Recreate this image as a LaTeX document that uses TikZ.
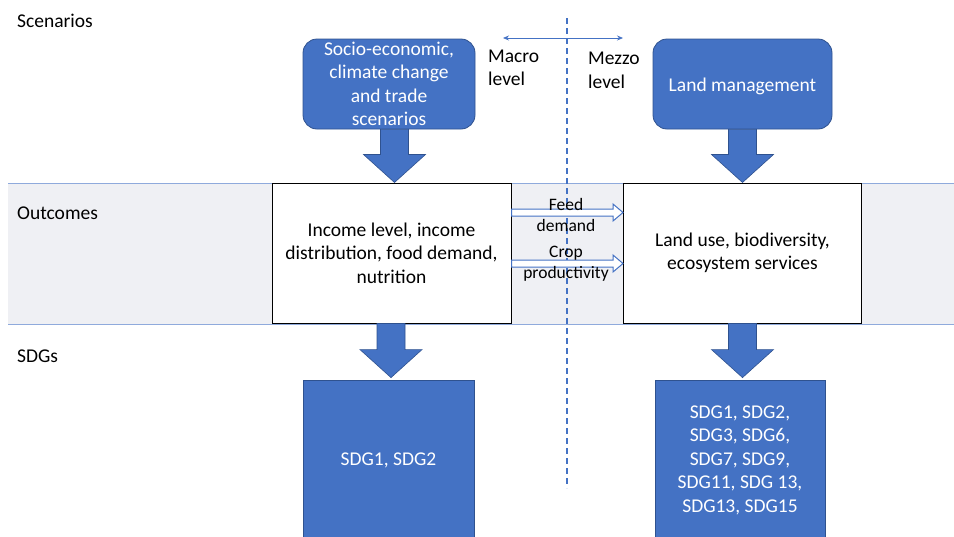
\documentclass[tikz,border=0pt]{standalone}
\usepackage{fontspec}
\setmainfont{Carlito}
\usetikzlibrary{calc,arrows.meta}
\definecolor{blu}{HTML}{4472C4}
\definecolor{bluedge}{HTML}{2F528F}
\definecolor{band}{HTML}{EFF0F4}
\definecolor{bandline}{HTML}{8FAADC}
\newcommand\blockarr[2]{% #1 tip coordinate, #2 node giving the top y
  \path[blockarrow] let \p1=(#1), \p2=(#2) in
  (\x1-14pt,\y2) -- (\x1+14pt,\y2) -- (\x1+14pt,\y1+28pt) -- (\x1+31pt,\y1+28pt)
  -- (\x1,\y1) -- (\x1-31pt,\y1+28pt) -- (\x1-14pt,\y1+28pt) -- cycle;}
\newcommand\hollowarr[2]{% #1 start coordinate, #2 tip coordinate
  \path[hollowarrow] let \p1=(#1), \p2=(#2) in
  (\x1,\y2+3.5pt) -- (\x2-10pt,\y2+3.5pt) -- (\x2-10pt,\y2+8.5pt) -- (\x2,\y2)
  -- (\x2-10pt,\y2-8.5pt) -- (\x2-10pt,\y2-3.5pt) -- (\x1,\y2-3.5pt) -- cycle;}
\begin{document}
\begin{tikzpicture}[x=1pt,y=-1pt,
  bigtxt/.style={font=\fontsize{19.5}{23.5}\selectfont},
  smalltxt/.style={font=\fontsize{17.5}{21}\selectfont},
  bluebox/.style={fill=blu, draw=bluedge, line width=0.8pt, text=white, align=center, bigtxt, inner sep=0pt},
  roundbox/.style={bluebox, rounded corners=14pt},
  whitebox/.style={fill=white, draw=black, line width=1pt, align=center, bigtxt, inner sep=0pt},
  blockarrow/.style={fill=blu, draw=bluedge, line width=0.6pt},
  hollowarrow/.style={fill=white, draw=blu, line width=1pt},
  label/.style={bigtxt, anchor=west, inner sep=0pt, align=left},
  levelarrow/.style={draw=blu, line width=0.7pt, {Stealth[length=6pt,width=5pt]}-{Stealth[length=6pt,width=5pt]}},
  divider/.style={draw=blu, line width=1.3pt, dash pattern=on 6pt off 4pt},
]
\useasboundingbox (0,0) rectangle (954,536);
% band
\fill[band] (8,183) rectangle (954,324);
\draw[bandline, line width=1pt] (8,183) -- (954,183);
\draw[bandline, line width=1pt] (8,324) -- (954,324);

% row labels
\node[label] (lscen) at (17,21) {Scenarios};
\node[label] (lout) at (17,213) {Outcomes};
\node[label] (lsdg) at (17,356) {SDGs};

% divider and level arrow
\coordinate (dtop) at (567,18);
\coordinate (dbot) at (567,488);
\draw[divider] (dtop) -- (dbot);
\coordinate (lvl) at (503,38);
\coordinate (lvr) at (623,38);
\draw[levelarrow] (lvl) -- (lvr);
\node[label] (macro) at (488,68) {Macro\\level};
\node[label] (mezzo) at (588,70.5) {Mezzo\\level};

% top boxes
\node[roundbox, minimum width=172pt, minimum height=90pt] (sc) at (389,84)
  {Socio-economic,\\climate change\\and trade\\scenarios};
\node[roundbox, minimum width=179pt, minimum height=90pt] (lm) at (742.5,84)
  {};
\node[bigtxt, text=white, inner sep=0pt] (lmt) at (742.5,86) {Land management};

% outcome boxes
\node[whitebox, minimum width=239pt, minimum height=140pt] (inc) at (391.5,253)
  {Income level, income\\distribution, food demand,\\nutrition};
\node[whitebox, minimum width=238pt, minimum height=140pt] (lu) at (742.5,253)
  {Land use, biodiversity,\\ecosystem services};

% SDG boxes
\node[bluebox, minimum width=171pt, minimum height=160pt] (s1) at (388.5,460)
  {SDG1, SDG2};
\node[bluebox, minimum width=170pt, minimum height=160pt] (s2) at (740,460)
  {SDG1, SDG2,\\SDG3, SDG6,\\SDG7, SDG9,\\SDG11, SDG 13,\\SDG13, SDG15};

% block arrows
\coordinate (t1) at ($(inc.north)+(3,0)$);
\coordinate (t2) at ($(lu.north)+(0,0)$);
\coordinate (t3) at ($(s1.north)+(2.5,-2)$);
\coordinate (t4) at ($(s2.north)+(2.5,-2)$);
\blockarr{t1}{sc.south}
\blockarr{t2}{lm.south}
\blockarr{t3}{inc.south}
\blockarr{t4}{lu.south}

% hollow arrows
\coordinate (f0) at (inc.east |- 0,212.5);
\coordinate (f1) at (lu.west |- 0,212.5);
\coordinate (c0) at (inc.east |- 0,263.5);
\coordinate (c1) at (lu.west |- 0,263.5);
\hollowarr{f0}{f1}
\hollowarr{c0}{c1}
\node[smalltxt, align=center, inner sep=0pt] (feed) at (566,214.5) {Feed\\demand};
\node[smalltxt, align=center, inner sep=0pt] (crop) at (566,264) {Crop\\productivity};
\end{tikzpicture}
\end{document}
